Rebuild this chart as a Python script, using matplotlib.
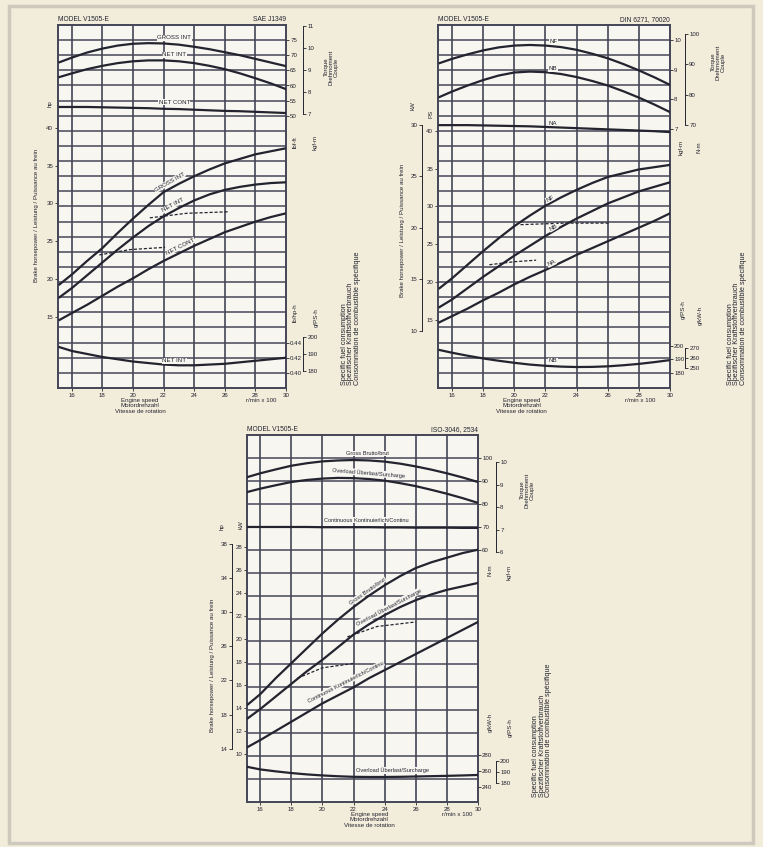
import numpy as np
import matplotlib.pyplot as plt
from matplotlib.patches import Rectangle

plt.rcParams['font.family'] = ['Liberation Sans', 'DejaVu Sans']

W, H = 763, 847
PAPER = '#f2ecdb'
PLOT_BG = '#f8f6f0'
INK = '#23242f'
GRID = '#444657'
FS = 4.4

# engine speed (x100 r/min), shared by all curves
rpm = [15.2, 16, 17, 18, 19, 20, 21, 22, 23, 24, 25, 26, 27, 28, 29, 30]
speed_ticks = [16, 18, 20, 22, 24, 26, 28, 30]

# SAE J1349 chart: hp, lbf-ft, lb/hp-h
sae_torque_gross = [67.7, 69.2, 70.9, 72.2, 73.2, 73.8, 74.0, 73.9, 73.5, 72.8, 72.0, 71.0, 70.0, 68.8, 67.6, 66.4]
sae_torque_netint = [62.8, 64.0, 65.4, 66.5, 67.4, 68.0, 68.3, 68.3, 68.0, 67.4, 66.5, 65.4, 64.0, 62.4, 60.7, 58.8]
sae_torque_netcont = [52.9, 52.9, 52.9, 52.8, 52.7, 52.6, 52.5, 52.3, 52.2, 52.0, 51.8, 51.6, 51.5, 51.3, 51.1, 50.9]
sae_power_gross = [19.3, 20.6, 22.4, 24.1, 26.1, 28.0, 29.8, 31.5, 32.6, 33.6, 34.5, 35.3, 35.9, 36.5, 36.9, 37.3]
sae_power_netint = [17.6, 18.8, 20.5, 22.2, 23.9, 25.5, 27.0, 28.3, 29.4, 30.4, 31.2, 31.8, 32.2, 32.5, 32.7, 32.8]
sae_power_netcont = [14.6, 15.5, 16.6, 17.8, 19.0, 20.1, 21.3, 22.4, 23.4, 24.4, 25.3, 26.2, 26.9, 27.6, 28.2, 28.7]
sae_dash_a_rpm = [17.8, 19.8, 22.1]
sae_dash_a_hp = [23.2, 23.9, 24.2]
sae_dash_b_rpm = [21.1, 23.5, 26.2]
sae_dash_b_hp = [28.1, 28.7, 28.9]
sae_fuel_netint = [0.434, 0.429, 0.425, 0.421, 0.418, 0.415, 0.413, 0.411, 0.410, 0.410, 0.411, 0.412, 0.414, 0.416, 0.418, 0.420]
sae_hp_ticks = [15, 20, 25, 30, 35, 40]
sae_lbft_ticks = [50, 55, 60, 65, 70, 75]
sae_kgfm_ticks = [7, 8, 9, 10, 11]
sae_lbhph_ticks = [0.40, 0.42, 0.44]
sae_gpsh_ticks = [180, 190, 200]

# DIN 6271 chart: PS, N-m, g/PS-h
din_torque_a = [90.4, 91.8, 93.3, 94.6, 95.6, 96.2, 96.4, 96.2, 95.7, 94.8, 93.5, 92.0, 90.1, 88.0, 85.7, 83.2]
din_torque_b = [79.2, 81.0, 83.0, 84.8, 86.3, 87.3, 87.6, 87.4, 86.8, 85.8, 84.5, 83.0, 81.1, 79.0, 76.7, 74.2]
din_torque_c = [69.9, 69.9, 69.9, 69.8, 69.7, 69.6, 69.5, 69.3, 69.1, 68.9, 68.7, 68.5, 68.3, 68.1, 67.9, 67.6]
din_power_a = [19.2, 20.5, 22.3, 24.1, 25.8, 27.4, 28.8, 30.1, 31.2, 32.2, 33.1, 33.9, 34.4, 34.9, 35.2, 35.5]
din_power_b = [16.7, 17.7, 19.2, 20.7, 22.1, 23.5, 24.8, 26.1, 27.3, 28.4, 29.4, 30.4, 31.2, 32.0, 32.6, 33.2]
din_power_c = [14.7, 15.5, 16.5, 17.6, 18.6, 19.7, 20.7, 21.6, 22.6, 23.6, 24.5, 25.4, 26.3, 27.2, 28.1, 29.1]
din_dash_a_rpm = [18.4, 20.0, 21.4]
din_dash_a_ps = [22.3, 22.7, 22.9]
din_dash_b_rpm = [20.4, 23.2, 26.1]
din_dash_b_ps = [27.6, 27.8, 27.8]
din_fuel_b = [196.8, 194.8, 192.6, 190.6, 188.9, 187.4, 186.1, 185.2, 184.6, 184.3, 184.4, 184.8, 185.6, 186.6, 187.9, 189.4]
din_ps_ticks = [15, 20, 25, 30, 35, 40]
din_kw_ticks = [10, 15, 20, 25, 30]
din_kgfm_ticks = [7, 8, 9, 10]
din_nm_ticks = [70, 80, 90, 100]
din_gpsh_ticks = [180, 190, 200]
din_gkwh_ticks = [250, 260, 270]

# ISO 3046 chart: kW, N-m, g/kW-h
iso_torque_gross = [91.7, 93.3, 95.0, 96.6, 97.7, 98.5, 98.9, 99.1, 98.9, 98.4, 97.5, 96.3, 94.9, 93.3, 91.5, 89.5]
iso_torque_overload = [85.2, 86.6, 88.1, 89.5, 90.4, 91.0, 91.3, 91.2, 90.8, 90.1, 89.0, 87.7, 86.1, 84.4, 82.5, 80.4]
iso_torque_cont = [69.9, 69.9, 69.9, 69.9, 69.9, 69.8, 69.8, 69.8, 69.8, 69.7, 69.7, 69.6, 69.6, 69.6, 69.5, 69.5]
iso_power_gross = [14.3, 15.2, 16.6, 17.9, 19.2, 20.5, 21.7, 22.8, 23.8, 24.7, 25.5, 26.2, 26.7, 27.1, 27.5, 27.8]
iso_power_overload = [13.1, 13.9, 15.0, 16.1, 17.2, 18.2, 19.3, 20.4, 21.3, 22.1, 22.8, 23.4, 23.9, 24.3, 24.6, 24.9]
iso_power_cont = [10.6, 11.2, 12.0, 12.8, 13.6, 14.4, 15.1, 15.8, 16.6, 17.3, 18.0, 18.7, 19.4, 20.1, 20.8, 21.5]
iso_dash_a_rpm = [18.4, 20.0, 22.1]
iso_dash_a_kw = [16.6, 17.5, 17.9]
iso_dash_b_rpm = [21.6, 23.5, 26.0]
iso_dash_b_kw = [20.2, 21.1, 21.5]
iso_fuel_overload = [265.1, 262.0, 259.6, 257.5, 255.8, 254.5, 253.5, 252.8, 252.6, 252.6, 252.8, 253.2, 253.6, 254.0, 254.5, 255.1]
iso_kw_ticks = [10, 12, 14, 16, 18, 20, 22, 24, 26, 28]
iso_hp_ticks = [14, 18, 22, 26, 30, 34, 38]
iso_nm_ticks = [60, 70, 80, 90, 100]
iso_kgfm_ticks = [6, 7, 8, 9, 10]
iso_gkwh_ticks = [240, 260, 280]
iso_gpsh_ticks = [180, 190, 200]

fig = plt.figure(figsize=(W / 100, H / 100), dpi=100, facecolor=PAPER)
fig.patches.append(Rectangle((0.012, 0.005), 0.975, 0.988, transform=fig.transFigure,
                             fill=False, ec='#cdc9bd', lw=2.5))


def row_lim(value, row, per_row, nrows):
    # value sits on grid row `row`, each row is worth `per_row`
    return value - (nrows - row) * per_row, value + row * per_row


def ftext(px, py, s, **kw):
    kw.setdefault('fontsize', FS)
    kw.setdefault('color', INK)
    kw.setdefault('ha', 'center')
    kw.setdefault('va', 'center')
    fig.text(px / W, 1 - py / H, s, **kw)


def panel(box, nrows, xlim, p_scale, t_scale, f_scale, header, label_x, unit_x):
    x0, y0, x1, y1 = box
    ax = fig.add_axes([x0 / W, 1 - y1 / H, (x1 - x0) / W, (y1 - y0) / H])
    ax.set_facecolor(PLOT_BG)
    ax.set_xlim(*xlim)
    ax.set_ylim(*row_lim(*p_scale, nrows))
    for k in range(1, nrows):
        ax.plot([0, 1], [k / nrows] * 2, transform=ax.transAxes, color=GRID, lw=1.1, zorder=1)
    for s in speed_ticks[:-1]:
        ax.axvline(s, color=GRID, lw=1.2, zorder=1)
    for sp in ax.spines.values():
        sp.set_color(GRID)
        sp.set_linewidth(1.4)
    ax.set_xticks(speed_ticks)
    ax.tick_params(labelsize=FS, length=2, width=0.6, pad=1.5, colors=INK)
    ax.text(0, 1.006, header[0], transform=ax.transAxes, fontsize=FS + 0.4,
            ha='left', va='bottom', color=INK)
    ax.text(1, 1.006, header[1], transform=ax.transAxes, fontsize=FS + 0.4,
            ha='right', va='bottom', color=INK)
    ax.text(label_x, -0.028, 'Engine speed\nMotordrehzahl\nVitesse de rotation',
            transform=ax.transAxes, fontsize=FS, ha='center', va='top',
            color=INK, linespacing=1.05)
    ax.text(unit_x, -0.028, 'r/min x 100', transform=ax.transAxes, fontsize=FS,
            ha='center', va='top', color=INK)
    tq = ax.twinx()
    tq.set_ylim(*row_lim(*t_scale, nrows))
    fu = ax.twinx()
    fu.set_ylim(*row_lim(*f_scale, nrows))
    for a in (tq, fu):
        a.set_yticks([])
        for sp in a.spines.values():
            sp.set_visible(False)
    return ax, tq, fu


def scale(host, loc, ticks, conv=None, bracket=False, fmt=None):
    fwd, inv = conv if conv else (lambda v: v, lambda v: v)
    sec = host.secondary_yaxis(loc, functions=(fwd, inv))
    sec.set_yticks(ticks)
    if fmt:
        sec.set_yticklabels([fmt.format(t) for t in ticks])
    sec.tick_params(labelsize=FS, length=2, width=0.6, pad=1, colors=INK)
    left = loc == 'left' or (not isinstance(loc, str) and loc < 0.5)
    for sp in sec.spines.values():
        sp.set_visible(False)
    if bracket:
        sp = sec.spines['left' if left else 'right']
        sp.set_visible(True)
        sp.set_color(INK)
        sp.set_linewidth(0.7)
        sp.set_bounds(min(ticks), max(ticks))
    return sec


def curve(a, xs, ys, dashed=False):
    a.plot(xs, ys, color=INK, lw=0.9 if dashed else 1.6,
           ls=(0, (2.5, 1.5)) if dashed else '-', zorder=3, solid_joinstyle='round')


def tag(a, text, x, xs, ys, dy=0.0, rotate=False, fs=FS):
    y = np.interp(x, xs, ys) + dy
    ang = 0.0
    if rotate:
        ang = np.degrees(np.arctan(np.interp(x + 0.5, xs, ys) - np.interp(x - 0.5, xs, ys)))
    a.text(x, y, text, fontsize=fs, ha='center', va='center', rotation=ang,
           rotation_mode='anchor', transform_rotates_text=True, color=INK, zorder=4,
           bbox=dict(boxstyle='square,pad=0.08', fc=PLOT_BG, ec='none'))


SPEC = 'Specific fuel consumption\nSpezifischer Kraftstoffverbrauch\nConsommation de combustible spécifique'
TORQ = 'Torque\nDrehmoment\nCouple'
BHP = 'Brake horsepower / Leistung / Puissance au frein'
lbft_kgfm = (lambda v: v / 7.233, lambda v: v * 7.233)
nm_kgfm = (lambda v: v / 9.807, lambda v: v * 9.807)

# ---- SAE J1349 (top left)
ax, tq, fu = panel((58, 25, 286, 388), 24, (15.1, 30), (40, 6.8, 2), (75, 1, 5),
                   (0.44, 21, 0.02), ('MODEL V1505-E', 'SAE J1349'), 0.36, 0.89)
ax.set_yticks(sae_hp_ticks)
scale(tq, 'right', sae_lbft_ticks)
scale(tq, 1.075, sae_kgfm_ticks, lbft_kgfm, bracket=True)
scale(fu, 'right', sae_lbhph_ticks, fmt='{:.2f}')
scale(fu, 1.075, sae_gpsh_ticks, (lambda v: v * 447.4, lambda v: v / 447.4), bracket=True)
for ys in (sae_torque_gross, sae_torque_netint, sae_torque_netcont):
    curve(tq, rpm, ys)
for ys in (sae_power_gross, sae_power_netint, sae_power_netcont):
    curve(ax, rpm, ys)
curve(ax, sae_dash_a_rpm, sae_dash_a_hp, dashed=True)
curve(ax, sae_dash_b_rpm, sae_dash_b_hp, dashed=True)
curve(fu, rpm, sae_fuel_netint)
tag(tq, 'GROSS INT', 22.7, rpm, sae_torque_gross, 2.2)
tag(tq, 'NET INT', 22.7, rpm, sae_torque_netint, 2.0)
tag(tq, 'NET CONT', 22.7, rpm, sae_torque_netcont, 2.2)
tag(ax, 'GROSS INT', 22.4, rpm, sae_power_gross, 0.9, rotate=True)
tag(ax, 'NET INT', 22.6, rpm, sae_power_netint, 0.8, rotate=True)
tag(ax, 'NET CONT', 23.1, rpm, sae_power_netcont, 0.8, rotate=True)
tag(fu, 'NET INT', 22.7, rpm, sae_fuel_netint, 0.006)
ftext(37, 215, BHP, rotation=90)
ftext(50, 104, 'hp', rotation=90)
ftext(295, 142, 'lbf-ft', rotation=90)
ftext(315, 142, 'kgf-m', rotation=90)
ftext(331, 67, TORQ, rotation=90, linespacing=1.0)
ftext(295, 313, 'lb/hp-h', rotation=90)
ftext(316, 318, 'g/PS-h', rotation=90)
ftext(351, 385, SPEC, rotation=90, va='bottom', multialignment='left',
      linespacing=0.95, fontsize=5.2)

# ---- DIN 6271 (top right)
ax, tq, fu = panel((438, 25, 670, 388), 24, (15.1, 30), (40, 7, 2), (100, 0.6, 5),
                   (200, 21.2, 11.11), ('MODEL V1505-E', 'DIN 6271, 70020'), 0.36, 0.87)
ax.set_yticks(din_ps_ticks)
scale(ax, -0.069, din_kw_ticks, (lambda v: v * 0.7355, lambda v: v / 0.7355), bracket=True)
scale(tq, 'right', din_kgfm_ticks, nm_kgfm)
scale(tq, 1.065, din_nm_ticks, bracket=True)
scale(fu, 'right', din_gpsh_ticks)
scale(fu, 1.065, din_gkwh_ticks, (lambda v: v * 1.36, lambda v: v / 1.36), bracket=True)
for ys in (din_torque_a, din_torque_b, din_torque_c):
    curve(tq, rpm, ys)
for ys in (din_power_a, din_power_b, din_power_c):
    curve(ax, rpm, ys)
curve(ax, din_dash_a_rpm, din_dash_a_ps, dashed=True)
curve(ax, din_dash_b_rpm, din_dash_b_ps, dashed=True)
curve(fu, rpm, din_fuel_b)
tag(tq, 'NF', 22.5, rpm, din_torque_a, 1.7)
tag(tq, 'NB', 22.5, rpm, din_torque_b, 1.4)
tag(tq, 'NA', 22.5, rpm, din_torque_c, 1.4)
tag(ax, 'NF', 22.3, rpm, din_power_a, 0.6, rotate=True)
tag(ax, 'NB', 22.5, rpm, din_power_b, 0.5, rotate=True)
tag(ax, 'NA', 22.4, rpm, din_power_c, 0.5, rotate=True)
tag(fu, 'NB', 22.5, rpm, din_fuel_b, 4.0)
ftext(402, 230, BHP, rotation=90)
ftext(413, 106, 'kW', rotation=90)
ftext(431, 114, 'PS', rotation=90)
ftext(681, 147, 'kgf-m', rotation=90)
ftext(699, 147, 'N·m', rotation=90)
ftext(718, 62, TORQ, rotation=90, linespacing=1.0)
ftext(683, 310, 'g/PS-h', rotation=90)
ftext(700, 315, 'g/kW-h', rotation=90)
ftext(737, 385, SPEC, rotation=90, va='bottom', multialignment='left',
      linespacing=0.95, fontsize=5.2)

# ---- ISO 3046 (bottom)
ax, tq, fu = panel((247, 435, 478, 802), 16, (15.15, 30), (28, 4.9, 2), (100, 1, 10),
                   (280, 13.95, 28.57), ('MODEL V1505-E', 'ISO-3046, 2534'), 0.53, 0.91)
ax.set_yticks(iso_kw_ticks)
scale(ax, -0.065, iso_hp_ticks, (lambda v: v / 0.7457, lambda v: v * 0.7457), bracket=True)
scale(tq, 'right', iso_nm_ticks)
scale(tq, 1.078, iso_kgfm_ticks, nm_kgfm, bracket=True)
scale(fu, 'right', iso_gkwh_ticks)
scale(fu, 1.078, iso_gpsh_ticks, (lambda v: v / 1.36, lambda v: v * 1.36), bracket=True)
for ys in (iso_torque_gross, iso_torque_overload, iso_torque_cont):
    curve(tq, rpm, ys)
for ys in (iso_power_gross, iso_power_overload, iso_power_cont):
    curve(ax, rpm, ys)
curve(ax, iso_dash_a_rpm, iso_dash_a_kw, dashed=True)
curve(ax, iso_dash_b_rpm, iso_dash_b_kw, dashed=True)
curve(fu, rpm, iso_fuel_overload)
tag(tq, 'Gross Brutto/brut', 22.9, rpm, iso_torque_gross, 3.0, fs=4.1)
tag(tq, 'Overload Überlast/Surcharge', 23.0, rpm, iso_torque_overload, 2.6, rotate=True, fs=4.1)
tag(tq, 'Continuous Kontinuierlich/Continu', 22.8, rpm, iso_torque_cont, 3.0, fs=4.1)
tag(ax, 'Gross Brutto/brut', 22.9, rpm, iso_power_gross, 0.5, rotate=True, fs=4.1)
tag(ax, 'Overload Überlast/Surcharge', 24.3, rpm, iso_power_overload, 0.5, rotate=True, fs=4.1)
tag(ax, 'Continuous Kontinuierlich/Continu', 21.5, rpm, iso_power_cont, 0.8, rotate=True, fs=4.1)
tag(fu, 'Overload Überlast/Surcharge', 24.5, rpm, iso_fuel_overload, 8.0, fs=4.1)
ftext(213, 665, BHP, rotation=90)
ftext(222, 527, 'hp', rotation=90)
ftext(241, 525, 'kW', rotation=90)
ftext(490, 570, 'N·m', rotation=90)
ftext(509, 572, 'kgf-m', rotation=90)
ftext(527, 490, TORQ, rotation=90, linespacing=1.0)
ftext(490, 722, 'g/kW-h', rotation=90)
ftext(510, 728, 'g/PS-h', rotation=90)
ftext(542, 797, SPEC, rotation=90, va='bottom', multialignment='left',
      linespacing=0.95, fontsize=5.2)

fig.savefig('out.png', dpi=100, facecolor=PAPER)
